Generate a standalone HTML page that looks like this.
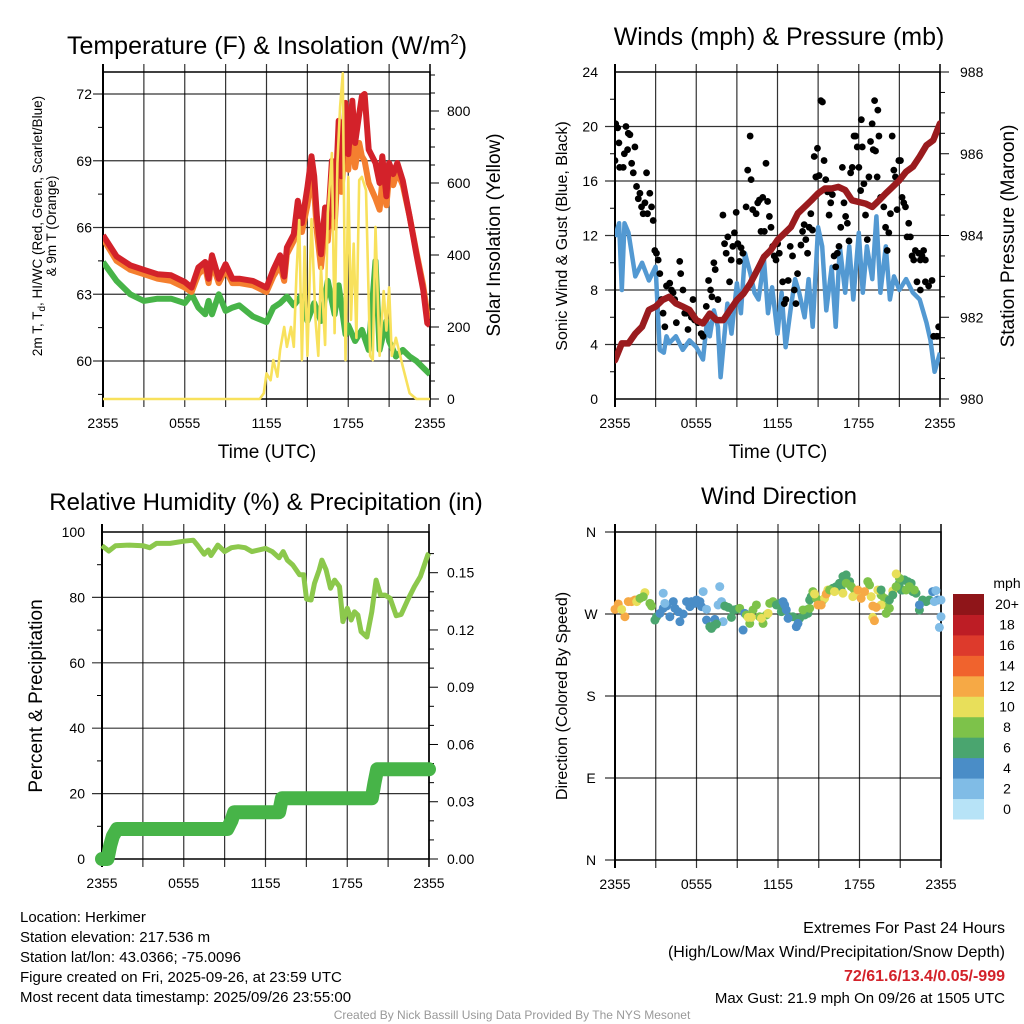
<!DOCTYPE html>
<html><head><meta charset="utf-8">
<style>
html,body{margin:0;padding:0;background:#fff;}
svg{display:block;font-family:"Liberation Sans",Arial,sans-serif;}
</style></head>
<body>
<svg id="svg" width="1024" height="1024" viewBox="0 0 1024 1024">
<rect width="1024" height="1024" fill="#fff"/>
<g id="g"></g>
</svg>
<script>
// ---------- DATA ----------
const tempHours=[0,1,2,3,4,5,6,6.5,7,7.5,7.75,8,8.5,9,9.5,10,11,12,12.5,13,13.3,13.5,14,14.3,14.6,15,15.3,15.5,15.7,16,16.3,16.5,16.8,17,17.3,17.5,17.8,18,18.3,18.5,18.8,19,19.2,19.5,20,20.3,20.5,20.8,21,21.3,21.6,22,22.5,23,23.5,23.8,24];
const tempRed=[65.65,64.7,64.3,64.1,63.9,63.85,63.55,63.3,64.2,64.45,63.7,64.75,63.7,64.35,63.7,63.7,63.6,63.3,64.1,64.75,63.8,65.1,65.7,67.2,66.2,67.8,69.2,68.3,66.5,64.8,66.9,66.0,69.0,66.5,70.8,68.3,71.6,69.3,71.7,69.8,71.1,71.9,72.0,69.5,68.9,68.0,69.2,67.4,68.9,68.4,68.9,68.1,66.5,64.8,63.2,61.7,61.6];
const tempOrange=[65.5,64.5,64.1,63.9,63.7,63.6,63.3,63.1,63.9,64.2,63.5,64.4,63.5,64.1,63.5,63.5,63.4,63.1,63.8,64.3,63.6,64.8,65.4,66.6,65.8,67.0,68.3,67.6,65.8,64.2,66.0,65.4,68.0,66.0,69.5,67.6,70.3,68.6,70.5,68.7,69.8,69.2,69.0,68.0,67.3,66.8,68.1,67.0,68.3,67.9,68.5,67.9,66.5,64.9,63.4,62.1,61.9];
const dewHours=[0,1,2,3,4,5,6,6.5,7,7.5,7.75,8,8.5,9,9.5,10,11,12,12.5,13,13.5,14,14.5,15,15.5,16,16.5,17,17.3,17.8,18,18.5,19,19.5,20,20.3,20.8,21,21.5,22,22.5,23,23.5,24];
const dewGreen=[64.45,63.6,63.0,62.7,62.8,62.8,62.6,63.0,62.4,62.1,62.7,62.1,63.0,62.25,62.4,62.5,62.0,61.75,62.4,62.6,62.9,62.5,62.9,61.8,62.6,61.8,63.6,62.1,63.4,61.2,61.6,60.9,61.4,60.5,64.5,60.5,61.8,60.9,60.2,60.5,60.2,60.0,59.7,59.4];
const solarHours=[0,11.5,11.8,12,12.3,12.5,12.8,13,13.3,13.5,13.8,14,14.2,14.4,14.6,14.8,15,15.3,15.6,15.8,16,16.3,16.5,16.8,17,17.2,17.4,17.6,17.8,18,18.2,18.4,18.6,18.8,19,19.3,19.6,19.8,20,20.3,20.6,20.8,21,21.2,21.5,22,22.5,23,24];
const solarVals=[0,0,16,71,52,108,62,136,200,145,200,145,350,497,108,423,120,500,220,120,367,150,516,683,183,655,812,905,108,617,220,432,170,608,617,580,120,108,478,120,300,190,310,120,170,90,16,0,0];

const windHours=[0,0.3,0.5,0.7,1,1.5,2,2.5,3,3.3,3.6,3.8,4,4.5,5,5.5,6,6.5,6.8,7,7.3,7.6,7.8,8,8.3,8.6,9,9.3,9.6,10,10.3,10.6,11,11.3,11.6,12,12.3,12.6,13,13.3,13.6,14,14.3,14.6,15,15.3,15.6,16,16.3,16.6,17,17.3,17.6,18,18.3,18.6,19,19.3,19.6,20,20.3,20.6,21,21.5,22,22.5,23,23.3,23.6,24];
const windSpeed=[11.9,12.9,8.0,12.9,12.2,9.0,10.0,8.7,9.7,3.6,3.4,4.6,4.1,4.6,3.6,4.3,3.8,2.9,5.8,4.6,6.5,5.3,1.6,3.8,7.0,4.8,8.5,6.3,10.7,9.2,7.8,7.3,10.2,6.3,8.2,4.8,7.8,3.8,6.8,8.8,7.8,6.0,8.8,5.3,12.6,11.2,6.5,9.7,5.3,11.2,7.8,11.2,7.3,12.2,7.8,11.2,8.8,13.4,7.8,11.2,7.3,9.0,8.0,8.8,7.8,7.3,5.6,4.3,2.0,3.4];
const presHours=[0,0.5,1,1.5,2,2.5,3,3.5,4,4.5,5,5.5,6,6.5,7,7.5,8,8.5,9,9.5,10,10.5,11,11.5,12,12.5,13,13.5,14,14.5,15,15.5,16,16.5,17,17.5,18,18.5,19,19.5,20,20.5,21,21.5,22,22.5,23,23.5,24];
const presVals=[980.95,981.36,981.36,981.6,981.77,982.18,982.26,982.42,982.5,982.34,982.26,982.18,981.93,981.85,982.09,981.93,981.93,982.18,982.42,982.58,982.83,983.15,983.48,983.64,983.89,984.05,984.21,984.54,984.7,984.86,985.03,985.15,985.15,985.19,985.11,984.86,984.82,984.78,984.7,984.86,985.03,985.19,985.35,985.56,985.68,985.93,986.21,986.33,986.74];
const gustHours=[0,0.05,0.2,0.29,0.34,0.61,0.69,0.81,0.93,0.98,1.1,1.23,1.35,1.47,1.59,1.72,1.84,1.96,2.08,2.21,2.33,2.4,2.57,2.7,2.82,2.94,3.06,3.19,3.31,3.43,3.55,3.68,3.8,4.04,4.17,4.29,4.41,4.53,4.78,4.85,5.02,5.15,5.27,5.39,5.64,5.76,5.88,6.13,6.37,6.5,6.74,6.91,7.06,7.16,7.3,7.4,7.6,7.97,8.09,8.21,8.33,8.46,8.58,8.7,8.82,8.95,9.07,9.19,9.31,9.44,9.68,9.8,9.98,10.05,10.17,10.42,10.54,10.66,10.78,10.91,11.03,11.15,11.27,11.4,11.52,11.64,11.76,11.89,12.01,12.13,12.38,12.5,12.62,12.79,12.94,13.11,13.24,13.36,13.48,13.73,13.85,13.97,14.09,14.22,14.34,14.46,14.58,14.71,14.83,14.95,15.07,15.2,15.32,15.44,15.56,15.69,15.81,15.93,16.05,16.18,16.3,16.42,16.54,16.67,16.79,16.91,17.03,17.16,17.28,17.4,17.52,17.65,17.77,17.89,18.01,18.14,18.19,18.26,18.38,18.5,18.63,18.75,18.87,18.99,19.07,19.17,19.24,19.36,19.41,19.49,19.61,19.85,19.98,20.1,20.22,20.34,20.47,20.59,20.71,20.83,20.96,21.08,21.2,21.32,21.45,21.57,21.69,21.81,21.94,22.06,22.18,22.43,22.55,22.67,22.79,22.92,22.3,22.55,22.92,23.16,23.41,23.53,23.77,23.9,24];
const gustSpeed=[17.5,20.2,19.9,18.8,17.0,17.0,18.0,20.0,18.3,19.5,19.4,17.3,16.6,18.5,15.6,14.7,15.1,14.1,13.6,14.4,16.6,13.6,15.1,14.1,13.1,10.9,10.7,10.2,9.2,7.3,6.3,5.3,8.3,8.5,8.0,7.8,7.3,5.6,10.1,9.2,8.0,6.3,6.3,5.1,6.0,7.3,5.8,5.6,4.8,4.6,6.8,8.7,8.0,7.5,10.0,9.5,7.3,13.5,11.4,10.7,11.9,8.6,10.2,11.2,12.2,13.7,11.4,10.1,11.1,10.7,14.1,16.8,19.3,16.1,13.9,13.6,14.4,14.6,12.3,14.8,12.3,17.3,14.5,13.4,12.6,11.2,10.5,10.2,11.4,10.7,8.6,7.0,7.3,8.7,11.2,10.5,8.0,7.0,9.2,11.3,12.3,12.8,11.7,10.7,12.6,13.6,12.4,17.8,16.3,18.4,16.4,21.9,21.8,17.5,16.1,15.2,13.5,14.4,15.0,10.5,9.7,10.7,11.2,12.6,17.0,14.4,13.4,12.9,11.6,16.6,17.0,19.3,19.3,18.5,17.0,15.3,20.5,18.5,15.8,13.5,11.7,16.3,18.9,20.2,18.3,21.9,18.2,16.3,21.2,19.3,14.8,14.1,12.6,10.9,12.2,13.6,19.3,16.8,16.3,13.9,17.5,17.5,14.8,14.4,14.1,11.9,12.9,11.9,10.5,10.2,10.9,10.7,10.2,10.5,10.9,10.2,8.6,8.0,8.6,8.3,8.7,4.6,4.6,5.3,4.6];

const rhHours=[0,0.5,1,2,3,3.5,4,5,6,6.7,7,7.5,7.8,8,8.5,9,9.5,10,10.5,11,12,12.5,13,13.3,13.6,14,14.5,14.8,15.01,15.35,15.6,15.94,16.14,16.45,16.77,17.07,17.43,17.68,18.0,18.29,18.53,18.78,19.02,19.44,19.8,20.12,20.44,20.78,21.15,21.59,21.96,22.44,22.93,23.37,23.91,24];
const rhVals=[95.8,94.2,95.8,96,95.8,95.2,96.5,96.5,97.2,97.5,96,93.2,94.5,92.8,96,94,95.2,95.5,95.2,94,95,94,92.1,94,91.4,89.9,86.9,86.9,79.5,79.2,84.3,88.4,91.4,88.4,82.8,85.3,83.3,72.6,76.7,73.1,75.6,74.6,69.5,67.9,75.6,85.3,80.7,80.7,79.7,74.4,74.8,79.2,83.3,86.4,93,93.5];
const precipHours=[0,0.4,0.6,0.8,1.1,9.2,9.5,9.7,13.0,13.2,19.8,20.0,20.2,24];
const precipVals=[0,0,0.007,0.012,0.0157,0.0157,0.020,0.0245,0.0245,0.0318,0.0318,0.040,0.047,0.047];

const dirHours=[0,0.24,0.73,0.98,1.22,1.47,0.49,2.2,1.6,1.84,2.08,2.57,2.69,3.06,2.94,3.31,3.55,3.8,4.04,4.29,4.41,4.65,4.78,5.02,5.27,5.51,5.63,5.88,6.0,6.25,6.37,3.55,3.67,6.49,6.74,7.71,7.96,7.84,7.59,6.74,7.35,6.98,7.23,7.47,7.1,8.08,8.33,8.69,8.57,8.94,9.18,9.43,9.55,9.67,9.92,10.16,10.41,10.65,10.9,11.14,11.39,11.63,9.8,10.04,10.78,11.27,11.88,12.12,12.25,12.86,13.1,13.59,13.96,14.08,14.2,12.37,12.49,12.74,13.35,13.47,12.61,13.84,14.33,14.33,14.45,14.57,14.82,15.31,14.69,15.43,15.67,14.94,15.18,15.55,16.04,16.29,16.53,16.78,17.02,17.27,16.65,15.8,17.02,17.39,17.63,16.16,16.78,17.51,17.88,17.88,18.12,18.61,18.74,19.59,19.84,20.08,20.2,19.96,18.86,19.35,19.59,18.98,20.45,18.98,19.23,19.1,18.37,19.59,20.2,20.45,20.94,21.06,21.31,21.55,21.8,21.92,22.16,22.41,22.65,22.9,23.14,21.18,20.94,20.7,21.43,21.67,22.04,20.7,22.41,23.39,23.76,23.63,24.0,23.88,24.0,23.51];
const dirDeg=[275.1,281,267,283.6,283.6,285.4,275,293.5,283.6,287.2,289,281.7,278.8,267,263.4,270.7,276.2,278.8,267,283.6,276.2,272.6,261.6,270,283.6,278.1,283.6,281.7,285.4,283.6,278.1,292.8,281.7,294.6,275.1,300.1,261.6,283.6,279.9,263.4,264.1,256.1,256.8,259,254.2,278.8,277.3,274.4,266.3,275.1,276.2,252.4,270.7,268.9,259.7,274.4,279.9,267,259.7,268.9,281.7,283.6,266.3,266.3,265.2,270.7,279.9,281.7,272.6,267,267,265.2,268.9,274.4,270.7,283.6,279.9,265.2,256.1,259.7,274.4,274.4,276.2,285.4,289.1,294.6,287.2,285.4,292,287.2,296.4,279.9,279.9,292,298.3,300.1,303.8,311.1,312.9,305.6,296.4,296.4,303.8,300.1,296.4,294.6,292.8,289.1,292.8,296.4,287.2,305.6,301.9,290.9,287.2,278.1,276.2,270.7,289.1,296.4,279.9,266.3,295.3,278.8,277.3,262.7,294.6,296.4,285.4,290.9,303.8,296.4,307.4,305.6,303.8,294.6,292.8,274.4,285.4,283.6,285.4,296.4,309.3,300.1,296.4,300.1,296.4,314,279.9,294.6,285.4,295.7,285.4,255.3,267,283.6];
const dirSpeed=[12.5,12.5,12.5,12.5,12.5,12.5,10.5,10.5,10.5,8.5,8.5,8.5,8.5,6.5,6.5,4.5,4.5,4.5,4.5,4.5,4.5,4.5,4.5,4.5,4.5,4.5,4.5,4.5,4.5,4.5,4.5,2.5,2.5,2.5,2.5,2.5,2.5,2.5,2.5,4.5,4.5,6.5,6.5,6.5,6.5,6.5,6.5,6.5,6.5,6.5,8.5,4.5,4.5,8.5,8.5,8.5,8.5,8.5,8.5,8.5,8.5,8.5,10.5,10.5,10.5,10.5,6.5,6.5,6.5,6.5,6.5,6.5,6.5,6.5,6.5,4.5,4.5,4.5,4.5,4.5,4.5,8.5,8.5,6.5,6.5,8.5,8.5,8.5,10.5,10.5,10.5,12.5,12.5,12.5,6.5,6.5,6.5,6.5,6.5,6.5,6.5,8.5,8.5,8.5,8.5,10.5,10.5,10.5,10.5,12.5,12.5,8.5,8.5,8.5,8.5,8.5,8.5,8.5,10.5,10.5,10.5,10.5,10.5,12.5,12.5,12.5,12.5,6.5,6.5,6.5,6.5,6.5,6.5,6.5,6.5,6.5,6.5,6.5,6.5,6.5,6.5,6.5,8.5,8.5,8.5,8.5,8.5,10.5,4.5,4.5,4.5,2.5,2.5,2.5,2.5,2.5];

const timeTickLabels=["2355","0555","1155","1755","2355"];
const speedBinColors=["#b7e3f7","#80bce6","#4a8dc7","#4aa56f","#7dc24a","#e8df5a","#f6a945","#f0632d","#dd3a2c","#bd1d25","#8f1519"];
const speedBinLabels=["0","2","4","6","8","10","12","14","16","18","20+"];

// ---------- HELPERS ----------
const NS="http://www.w3.org/2000/svg";
const root=document.getElementById('g');
function mk(tag,attrs,parent){const e=document.createElementNS(NS,tag);for(const k in attrs)e.setAttribute(k,attrs[k]);(parent||root).appendChild(e);return e;}
function txt(s,x,y,size,anchor,parent,extra){const e=mk('text',Object.assign({x:x,y:y,'font-size':size,'text-anchor':anchor||'middle',fill:'#000'},extra||{}),parent);e.textContent=s;return e;}
function lin(d0,d1,r0,r1){return v=>r0+(v-d0)*(r1-r0)/(d1-d0);}
function path(xs,ys,fx,fy){let d='';for(let i=0;i<xs.length;i++)d+=(i?'L':'M')+fx(xs[i]).toFixed(1)+','+fy(ys[i]).toFixed(1);return d;}

function frame(name,x0,x1,y0,y1,hLines){
  const g=mk('g',{});
  
  
  const fx=lin(0,24,x0,x1);
  for(let h=3;h<24;h+=3){mk('line',{x1:fx(h),x2:fx(h),y1:y0-8,y2:y1+8,stroke:'#000','stroke-width':1.2,'stroke-opacity':0.8},g);}
  hLines.forEach(y=>mk('line',{x1:x0-10,x2:x1,y1:y,y2:y,stroke:'#000','stroke-width':1.2,'stroke-opacity':0.8},g));
  const b=mk('rect',{x:x0,y:y0,width:x1-x0,height:y1-y0,fill:'none',stroke:'#000','stroke-width':1.5});
  
  
  mk('line',{x1:x0,x2:x0,y1:y0-8,y2:y1+8,stroke:'#000','stroke-width':2});
  mk('line',{x1:x1,x2:x1,y1:y0-8,y2:y1+8,stroke:'#000','stroke-width':1.5});
  const tl=mk('g',{});
  
  
  timeTickLabels.forEach((s,i)=>txt(s,fx(i*6),y1+29,14,'middle',tl));
  return fx;
}
function rightTicks(x1,fy,min,max,minor,major,fmt,name,lx){
  const g=mk('g',{});
  
  
  for(let v=min;v<=max+1e-9;v+=minor){const isM=Math.abs(v/major-Math.round(v/major))<1e-6;
    mk('line',{x1:x1,x2:x1+(isM?9:5),y1:fy(v),y2:fy(v),stroke:'#000','stroke-width':1},g);
    if(isM)txt(fmt(v),lx,fy(v)+5,14,'start',g);}
}
function leftTicks(x0,fy,vals,labels,minorVals,name,lx){
  const g=mk('g',{});
  
  
  minorVals.forEach(v=>mk('line',{x1:x0-5,x2:x0,y1:fy(v),y2:fy(v),stroke:'#000','stroke-width':1},g));
  vals.forEach((v,i)=>txt(labels[i],lx,fy(v)+5,14,'end',g));
}

// ---------- PANEL 1: Temperature ----------
(function(){
  const x0=103,x1=430,y0=72,y1=399;
  const fy=lin(72,60,94,361);
  const fs=lin(0,800,399,111);
  const fx=frame('temp-panel',x0,x1,y0,y1,[72,69,66,63,60].map(fy));
  leftTicks(x0,fy,[72,69,66,63,60],["72","69","66","63","60"],[70.5,67.5,64.5,61.5,58.5],'temp-y-ticks',92);
  rightTicks(x1,fs,0,900,50,200,v=>String(v),'solar-y-ticks',447);
  const cp=mk('clipPath',{id:'c1'});mk('rect',{x:x0,y:y0-4,width:x1-x0,height:y1-y0+6},cp);
  const g=mk('g',{'clip-path':'url(#c1)'});
  let p=mk('path',{d:path(dewHours,dewGreen,fx,fy),fill:'none',stroke:'#47b448','stroke-width':6,'stroke-linejoin':'round'},g);
  
  p=mk('path',{d:path(tempHours,tempOrange,fx,fy),fill:'none',stroke:'#f47f2f','stroke-width':6,'stroke-linejoin':'round'},g);
  
  p=mk('path',{d:path(tempHours,tempRed,fx,fy),fill:'none',stroke:'#d3222a','stroke-width':6,'stroke-linejoin':'round'},g);
  
  p=mk('path',{d:path(solarHours,solarVals,fx,fs),fill:'none',stroke:'#f8e15c','stroke-width':2.6,'stroke-linejoin':'round'},g);
  
  let t=txt('',267,54,25,'middle');t.innerHTML='Temperature (F) &amp; Insolation (W/m<tspan dy="-10" font-size="15">2</tspan><tspan dy="10">)</tspan>';
  
  t=txt('Time (UTC)',267,458,19);
  t=txt('',0,0,13.5,'middle',null,{transform:'translate(42,226) rotate(-90)'});
  t.innerHTML='2m T, T<tspan dy="3" font-size="10">d</tspan><tspan dy="-3">, HI/WC (Red, Green, Scarlet/Blue)</tspan>';
  
  t=txt('& 9m T (Orange)',0,0,13.5,'middle',null,{transform:'translate(56,226) rotate(-90)'});
  
  t=txt('Solar Insolation (Yellow)',0,0,19,'middle',null,{transform:'translate(500,235) rotate(-90)'});
  
})();

// ---------- PANEL 2: Winds ----------
(function(){
  const x0=615,x1=940,y0=72,y1=399;
  const fy=lin(0,24,399,72);
  const fp=lin(980,988,399,72);
  const fx=frame('wind-panel',x0,x1,y0,y1,[4,8,12,16,20].map(fy));
  leftTicks(x0,fy,[0,4,8,12,16,20,24],["0","4","8","12","16","20","24"],[2,6,10,14,18,22],'wind-y-ticks',598);
  rightTicks(x1,fp,980,988,0.5,2,v=>String(v),'pressure-y-ticks',960);
  const cp=mk('clipPath',{id:'c2'});mk('rect',{x:x0,y:y0,width:x1-x0,height:y1-y0+2},cp);
  const g=mk('g',{'clip-path':'url(#c2)'});
  let p=mk('path',{d:path(windHours,windSpeed,fx,fy),fill:'none',stroke:'#5399d2','stroke-width':4.5,'stroke-linejoin':'round'},g);
  
  const gg=mk('g',{},g);
  
  gustHours.forEach((h,i)=>{const c=mk('circle',{cx:fx(h),cy:fy(gustSpeed[i]),r:3.4,fill:'#000'},gg);
    
    });
  p=mk('path',{d:path(presHours,presVals,fx,fp),fill:'none',stroke:'#9a1b1e','stroke-width':6.5,'stroke-linejoin':'round','stroke-linecap':'round'},g);
  
  let t=txt('Winds (mph) & Pressure (mb)',779,45,25);
  t=txt('Time (UTC)',778,458,19);
  t=txt('Sonic Wind & Gust (Blue, Black)',0,0,16,'middle',null,{transform:'translate(567,236) rotate(-90)'});
  
  t=txt('Station Pressure (Maroon)',0,0,19,'middle',null,{transform:'translate(1014,236) rotate(-90)'});
  
})();

// ---------- PANEL 3: RH & Precip ----------
(function(){
  const x0=102,x1=429,y0=532,y1=859;
  const fy=lin(0,100,859,532);
  const fr=lin(0,0.15,859,572.7);
  const fx=frame('rh-panel',x0,x1,y0,y1,[20,40,60,80].map(fy));
  leftTicks(x0,fy,[0,20,40,60,80,100],["0","20","40","60","80","100"],[10,30,50,70,90],'rh-y-ticks',85);
  rightTicks(x1,fr,0,0.165,0.01,0.03,v=>v.toFixed(2),'precip-y-ticks',447);
  let p=mk('path',{d:path(rhHours,rhVals,fx,fy),fill:'none',stroke:'#8cc84c','stroke-width':5,'stroke-linejoin':'round'});
  
  p=mk('path',{d:path(precipHours,precipVals,fx,fr),fill:'none',stroke:'#47b448','stroke-width':14,'stroke-linejoin':'round','stroke-linecap':'round'});
  
  let t=txt('Relative Humidity (%) & Precipitation (in)',266,510,24);
  t=txt('Percent & Precipitation',0,0,19,'middle',null,{transform:'translate(42,696) rotate(-90)'});
  
})();

// ---------- PANEL 4: Wind Direction ----------
(function(){
  const x0=615,x1=941,y0=532,y1=860;
  const fy=lin(0,360,860,532);
  const fx=frame('dir-panel',x0,x1,y0,y1,[90,180,270].map(fy));
  const lg=mk('g',{});
  
  [[360,'N'],[270,'W'],[180,'S'],[90,'E'],[0,'N']].forEach(a=>txt(a[1],591,fy(a[0])+5,14,'middle',lg));
  [360,0].forEach(v=>mk('line',{x1:x0-10,x2:x0,y1:fy(v),y2:fy(v),stroke:'#000','stroke-width':1},lg));
  const g=mk('g',{});
  
  dirHours.forEach((h,i)=>{const bin=Math.min(10,Math.floor(dirSpeed[i]/2));
    const c=mk('circle',{cx:fx(h),cy:fy(dirDeg[i]),r:4.5,fill:speedBinColors[bin]},g);
    
    });
  const cb=mk('g',{});
  
  const bh=225/11;
  speedBinColors.forEach((c,i)=>{const yy=819-(i+1)*bh;mk('rect',{x:953,y:yy,width:31,height:bh+0.5,fill:c},cb);
    txt(speedBinLabels[i],1007,yy+bh/2+5,14,'middle',cb);});
  txt('mph',1007,588,14,'middle',cb);
  let t=txt('Wind Direction',779,504,24);
  t=txt('Direction (Colored By Speed)',0,0,16,'middle',null,{transform:'translate(567,696) rotate(-90)'});
  
})();

// ---------- FOOTER ----------
(function(){
  const info=["Location: Herkimer","Station elevation: 217.536 m","Station lat/lon: 43.0366; -75.0096","Figure created on Fri, 2025-09-26, at 23:59 UTC","Most recent data timestamp: 2025/09/26 23:55:00"];
  const g=mk('g',{});
  
  info.forEach((s,i)=>txt(s,20,922+i*20,15,'start',g));
  const e=mk('g',{});
  
  txt('Extremes For Past 24 Hours',1005,933,16,'end',e);
  txt('(High/Low/Max Wind/Precipitation/Snow Depth)',1005,957,16,'end',e);
  txt('72/61.6/13.4/0.05/-999',1005,981,16,'end',e,{fill:'#d3222a','font-weight':'bold'});
  txt('Max Gust: 21.9 mph On 09/26 at 1505 UTC',1005,1003,15,'end',e);
  const c=txt('Created By Nick Bassill Using Data Provided By The NYS Mesonet',512,1019,12,'middle',null,{fill:'#999'});
  
})();
</script>
</body></html>
